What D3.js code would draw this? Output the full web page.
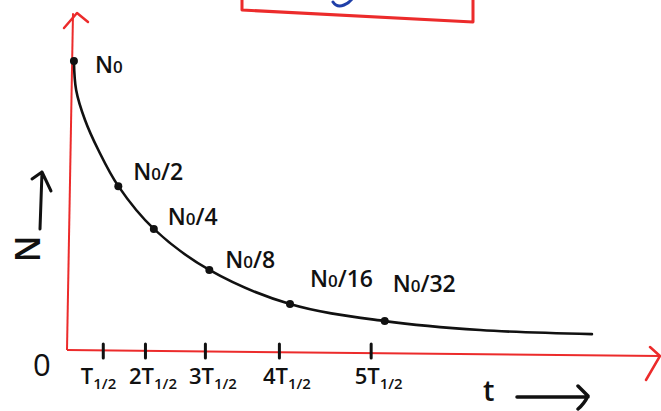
<!DOCTYPE html>
<html>
<head>
<meta charset="utf-8">
<script src="https://cdn.jsdelivr.net/npm/d3@7"></script>
<style>
  html, body { margin: 0; padding: 0; background: #fff; }
  svg { display: block; }
  text { font-family: "Open Sans", "DejaVu Sans", sans-serif; fill: #111; }
</style>
</head>
<body>
<svg id="chart" width="661" height="411"></svg>
<script>
// ---- data ----
// time in arbitrary units along the drawn axis, N as fraction of N0
const pointLabels = ["N0", "N0/2", "N0/4", "N0/8", "N0/16", "N0/32"];
const pointTime   = [0.08, 0.68, 1.16, 1.91, 3.00, 4.28];
const pointN      = [1.00, 0.567, 0.419, 0.277, 0.159, 0.100];

const curveTime = [0.08, 0.11, 0.23, 0.41, 0.68, 1.16, 1.91, 3.00, 4.28, 5.57, 7.08];
const curveN    = [1.00, 0.90, 0.796, 0.692, 0.567, 0.419, 0.277, 0.159, 0.100, 0.069, 0.055];

const tickTime   = [0.47, 1.04, 1.85, 2.85, 4.09];
const tickLabels = ["T1/2", "2T1/2", "3T1/2", "4T1/2", "5T1/2"];

const xAxisLabel = "t";
const yAxisLabel = "N";
const originLabel = "0";

// ---- layout ----
const RED = "#ec2b2b";
const INK = "#111";
const svg = d3.select("#chart");

const x = d3.scaleLinear().domain([0, 8]).range([68, 660]);
const y = d3.scaleLinear().domain([0, 1]).range([350, 61]);

// top red box (partially cut off)
svg.append("path")
  .attr("d", "M242,-2 L242,10 L473,22 L473,-2")
  .attr("fill", "none").attr("stroke", RED).attr("stroke-width", 3)
  .attr("stroke-linejoin", "round");
svg.append("path")
  .attr("d", "M333,2 Q337,8 344,5 Q349,3 352,-1")
  .attr("fill", "none").attr("stroke", "#1f3fa8").attr("stroke-width", 3)
  .attr("stroke-linecap", "round");

// y axis (red, slight slant) with arrow
svg.append("path")
  .attr("d", `M${x(0) - 1},${y(0)} L${x(0) + 5},${y(1.165)}`)
  .attr("fill", "none").attr("stroke", RED).attr("stroke-width", 2);
svg.append("path")
  .attr("d", `M64,28 L77,13 L88,22`)
  .attr("fill", "none").attr("stroke", RED).attr("stroke-width", 2.5)
  .attr("stroke-linecap", "round").attr("stroke-linejoin", "round");

// x axis (red) with arrow
svg.append("path")
  .attr("d", `M${x(0) - 1},${y(0)} L${x(8)},${y(0) + 6}`)
  .attr("fill", "none").attr("stroke", RED).attr("stroke-width", 2);
svg.append("path")
  .attr("d", `M650,347 L660,356 L646,380`)
  .attr("fill", "none").attr("stroke", RED).attr("stroke-width", 2.5)
  .attr("stroke-linecap", "round").attr("stroke-linejoin", "round");

// x ticks via d3 axis
const xAxis = d3.axisBottom(x).tickValues(tickTime).tickSize(8).tickFormat("");
const gx = svg.append("g").attr("transform", `translate(0,${y(0) + 1})`).call(xAxis);
gx.select(".domain").remove();
gx.selectAll(".tick line")
  .attr("y1", -7).attr("y2", 7)
  .attr("stroke", INK).attr("stroke-width", 3).attr("stroke-linecap", "round");

// tick labels: "T" with subscript 1/2
const tl = svg.append("g").selectAll("text").data(tickTime).join("text")
  .attr("y", 384)
  .attr("font-size", 22)
  .attr("font-weight", 600);
tl.each(function (d, i) {
  const lab = tickLabels[i];
  const idx = lab.indexOf("T");
  const pre = lab.slice(0, idx);
  const sub = lab.slice(idx + 1);
  const t = d3.select(this);
  if (pre) t.append("tspan").text(pre);
  t.append("tspan").text("T");
  t.append("tspan").attr("font-size", 15).attr("dy", 5).text(sub);
});
// shift labels so the T sits under the tick
tl.attr("x", function (d, i) {
  const pre = tickLabels[i].indexOf("T") > 0;
  return x(d) - (pre ? 16 : 22);
});

// origin label
svg.append("text").attr("x", 33).attr("y", 376)
  .attr("font-size", 31).text(originLabel);

// y axis label (rotated N) with arrow
svg.append("text")
  .attr("transform", "translate(40,249) rotate(-90)")
  .attr("text-anchor", "middle")
  .attr("font-size", 34).attr("font-weight", 600)
  .text(yAxisLabel);
svg.append("path")
  .attr("d", "M40,229 L42,172 M32,179 L42,172 L51,191")
  .attr("fill", "none").attr("stroke", INK).attr("stroke-width", 3)
  .attr("stroke-linecap", "round").attr("stroke-linejoin", "round");

// x axis label with arrow
svg.append("text").attr("x", 483).attr("y", 401)
  .attr("font-size", 29).attr("font-weight", 600).text(xAxisLabel);
svg.append("path")
  .attr("d", "M517,397 L588,397 M578,386 L588,396 Q584,404 578,409")
  .attr("fill", "none").attr("stroke", INK).attr("stroke-width", 3.5)
  .attr("stroke-linecap", "round").attr("stroke-linejoin", "round");

// decay curve
const line = d3.line()
  .x((d, i) => x(curveTime[i]))
  .y((d, i) => y(curveN[i]))
  .curve(d3.curveCatmullRom.alpha(0.5));
svg.append("path")
  .datum(curveTime)
  .attr("d", line)
  .attr("fill", "none").attr("stroke", INK).attr("stroke-width", 2.6)
  .attr("stroke-linecap", "round");

// points
svg.append("g").selectAll("circle").data(pointTime).join("circle")
  .attr("cx", (d) => x(d))
  .attr("cy", (d, i) => y(pointN[i]))
  .attr("r", 4)
  .attr("fill", INK);

// point labels
const offs = [[21, 12], [15, -6], [14, -4], [16, -2], [20, -17], [8, -29]];
const pl = svg.append("g").selectAll("text").data(pointTime).join("text")
  .attr("x", (d, i) => x(d) + offs[i][0])
  .attr("y", (d, i) => y(pointN[i]) + offs[i][1])
  .attr("font-size", 23).attr("font-weight", 600);
pl.each(function (d, i) {
  const lab = pointLabels[i];
  const t = d3.select(this);
  t.append("tspan").text(lab[0]);
  t.append("tspan").attr("font-size", 17).text(lab[1]);
  if (lab.length > 2) t.append("tspan").text(lab.slice(2));
});
</script>
</body>
</html>
